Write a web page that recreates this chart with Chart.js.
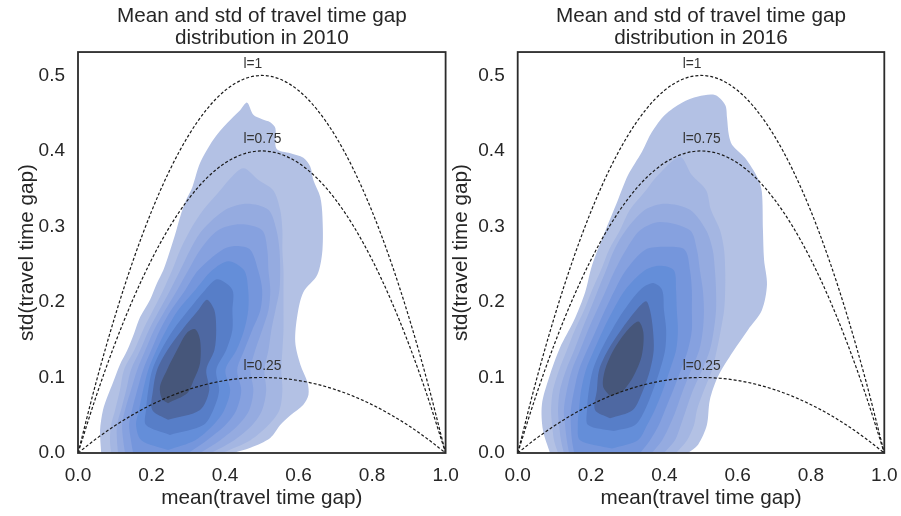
<!DOCTYPE html>
<html><head><meta charset="utf-8">
<script src="https://cdn.jsdelivr.net/npm/chart.js@4/dist/chart.umd.min.js"></script>
<style>
html,body{margin:0;padding:0;background:#fff;}
#wrap{position:relative;width:901px;height:516px;overflow:hidden;}
canvas{position:absolute;top:0;}
#c1{left:0;z-index:1;}
#c2{left:445px;z-index:2;}
</style></head><body>
<div id="wrap">
<canvas id="c1" width="462" height="516"></canvas>
<canvas id="c2" width="456" height="516"></canvas>
</div>
<script>
// ---- axes ----
const meanTicks = [0, 0.2, 0.4, 0.6, 0.8, 1.0];
const stdTicks = [0, 0.1, 0.2, 0.3, 0.4, 0.5];
const years = ['2010', '2016'];

// ---- reference curves ----
const curveMean = [0,0.05,0.1,0.15,0.2,0.25,0.3,0.35,0.4,0.45,0.5,0.55,0.6,0.65,0.7,0.75,0.8,0.85,0.9,0.95,1];
const curveL100 = [0,0.095,0.18,0.255,0.32,0.375,0.42,0.455,0.48,0.495,0.5,0.495,0.48,0.455,0.42,0.375,0.32,0.255,0.18,0.095,0];
const curveL075 = [0,0.076,0.144,0.204,0.256,0.3,0.336,0.364,0.384,0.396,0.4,0.396,0.384,0.364,0.336,0.3,0.256,0.204,0.144,0.076,0];
const curveL025 = [0,0.019,0.036,0.051,0.064,0.075,0.084,0.091,0.096,0.099,0.1,0.099,0.096,0.091,0.084,0.075,0.064,0.051,0.036,0.019,0];
const curveLabels = ['l=1', 'l=0.75', 'l=0.25'];
const curveLabelPos = [[0.45, 0.51], [0.45, 0.41], [0.45, 0.11]];

// ---- KDE contour levels, [mean, std] outlines ----
const levelColors = ['#b3c1e4','#a4b6e2','#95abe0','#86a1df','#7596dc','#648ed9','#577ec8','#4e68a2','#46567a'];

const kde2010_1 = [[0.063,0],[0.060,0.030],[0.068,0.057],[0.082,0.077],[0.095,0.093],[0.114,0.117],[0.134,0.136],[0.153,0.159],[0.169,0.180],[0.196,0.203],[0.215,0.225],[0.232,0.242],[0.245,0.260],[0.264,0.289],[0.278,0.313],[0.294,0.335],[0.311,0.352],[0.332,0.384],[0.368,0.415],[0.406,0.437],[0.441,0.454],[0.460,0.464],[0.477,0.448],[0.501,0.442],[0.523,0.438],[0.537,0.430],[0.540,0.403],[0.578,0.397],[0.613,0.391],[0.632,0.379],[0.640,0.362],[0.659,0.339],[0.665,0.313],[0.665,0.269],[0.651,0.236],[0.613,0.213],[0.597,0.183],[0.591,0.147],[0.605,0.117],[0.624,0.094],[0.627,0.077],[0.613,0.064],[0.578,0.050],[0.550,0.037],[0.523,0.020],[0.469,0.007],[0.422,0]];
const kde2010_2 = [[0.090,0],[0.087,0.017],[0.090,0.037],[0.101,0.057],[0.114,0.083],[0.125,0.110],[0.153,0.136],[0.177,0.163],[0.204,0.189],[0.232,0.216],[0.256,0.242],[0.278,0.269],[0.305,0.295],[0.341,0.322],[0.387,0.348],[0.411,0.362],[0.450,0.377],[0.490,0.362],[0.531,0.348],[0.550,0.322],[0.556,0.295],[0.556,0.269],[0.559,0.242],[0.559,0.216],[0.559,0.189],[0.559,0.163],[0.556,0.136],[0.553,0.110],[0.556,0.083],[0.548,0.057],[0.518,0.037],[0.469,0.017],[0.392,0]];
const kde2010_3 = [[0.109,0],[0.106,0.017],[0.106,0.037],[0.117,0.057],[0.131,0.083],[0.144,0.110],[0.169,0.136],[0.193,0.163],[0.221,0.189],[0.251,0.216],[0.278,0.242],[0.305,0.269],[0.338,0.295],[0.401,0.322],[0.460,0.330],[0.518,0.322],[0.540,0.295],[0.548,0.269],[0.550,0.242],[0.548,0.216],[0.537,0.189],[0.526,0.163],[0.518,0.136],[0.507,0.110],[0.512,0.083],[0.501,0.057],[0.474,0.037],[0.425,0.017],[0.362,0]];
const kde2010_4 = [[0.128,0],[0.123,0.017],[0.120,0.037],[0.128,0.057],[0.144,0.083],[0.161,0.110],[0.183,0.136],[0.207,0.163],[0.237,0.189],[0.270,0.216],[0.300,0.242],[0.332,0.269],[0.381,0.295],[0.441,0.303],[0.501,0.295],[0.515,0.269],[0.518,0.242],[0.523,0.216],[0.518,0.189],[0.501,0.163],[0.482,0.136],[0.469,0.110],[0.477,0.083],[0.466,0.057],[0.436,0.037],[0.387,0.017],[0.332,0]];
const kde2010_5 = [[0.150,0],[0.144,0.017],[0.139,0.037],[0.147,0.057],[0.161,0.083],[0.177,0.110],[0.199,0.136],[0.223,0.163],[0.253,0.189],[0.292,0.216],[0.327,0.242],[0.392,0.269],[0.431,0.274],[0.469,0.269],[0.490,0.242],[0.501,0.216],[0.496,0.189],[0.474,0.163],[0.452,0.136],[0.433,0.110],[0.444,0.083],[0.431,0.057],[0.401,0.037],[0.351,0.017],[0.300,0]];
const kde2010_6 = [[0.245,0.004],[0.172,0.017],[0.158,0.037],[0.166,0.057],[0.177,0.083],[0.191,0.110],[0.213,0.136],[0.240,0.163],[0.272,0.189],[0.319,0.216],[0.365,0.242],[0.409,0.254],[0.452,0.242],[0.463,0.216],[0.463,0.189],[0.452,0.163],[0.431,0.136],[0.401,0.110],[0.414,0.083],[0.398,0.057],[0.368,0.037],[0.319,0.017],[0.245,0.004]];
const kde2010_7 = [[0.250,0.024],[0.185,0.037],[0.185,0.057],[0.191,0.083],[0.202,0.110],[0.226,0.136],[0.259,0.163],[0.300,0.189],[0.346,0.216],[0.379,0.230],[0.420,0.216],[0.420,0.189],[0.420,0.163],[0.403,0.136],[0.376,0.110],[0.384,0.083],[0.368,0.057],[0.341,0.037],[0.250,0.024]];
const kde2010_8 = [[0.245,0.044],[0.202,0.057],[0.204,0.083],[0.215,0.110],[0.243,0.136],[0.283,0.163],[0.327,0.189],[0.351,0.203],[0.371,0.189],[0.376,0.163],[0.371,0.136],[0.349,0.110],[0.357,0.083],[0.332,0.057],[0.245,0.044]];
const kde2010_9 = [[0.245,0.066],[0.228,0.072],[0.223,0.088],[0.242,0.110],[0.269,0.136],[0.296,0.159],[0.319,0.164],[0.332,0.150],[0.332,0.119],[0.315,0.097],[0.297,0.079],[0.245,0.066]];

const kde2016_1 = [[0.088,0],[0.069,0.030],[0.066,0.064],[0.085,0.099],[0.115,0.139],[0.154,0.176],[0.184,0.213],[0.203,0.249],[0.238,0.293],[0.271,0.332],[0.301,0.368],[0.339,0.399],[0.366,0.425],[0.402,0.448],[0.448,0.464],[0.492,0.472],[0.538,0.474],[0.566,0.461],[0.571,0.444],[0.576,0.421],[0.585,0.408],[0.620,0.391],[0.655,0.364],[0.666,0.346],[0.669,0.295],[0.672,0.256],[0.680,0.223],[0.666,0.189],[0.628,0.163],[0.587,0.134],[0.546,0.101],[0.524,0.070],[0.516,0.037],[0.492,0.011],[0.464,0]];
const kde2016_2 = [[0.110,0],[0.099,0.017],[0.094,0.037],[0.091,0.057],[0.096,0.083],[0.113,0.110],[0.134,0.136],[0.156,0.163],[0.181,0.189],[0.203,0.216],[0.227,0.242],[0.249,0.269],[0.279,0.295],[0.306,0.322],[0.350,0.348],[0.383,0.368],[0.443,0.392],[0.475,0.368],[0.514,0.348],[0.527,0.322],[0.552,0.295],[0.563,0.269],[0.566,0.242],[0.566,0.216],[0.563,0.189],[0.554,0.163],[0.543,0.136],[0.530,0.110],[0.508,0.083],[0.489,0.057],[0.481,0.037],[0.462,0.017],[0.432,0]];
const kde2016_3 = [[0.126,0],[0.118,0.017],[0.113,0.037],[0.110,0.057],[0.115,0.083],[0.132,0.110],[0.154,0.136],[0.175,0.163],[0.197,0.189],[0.219,0.216],[0.241,0.242],[0.263,0.269],[0.295,0.295],[0.347,0.322],[0.402,0.330],[0.470,0.322],[0.514,0.295],[0.532,0.269],[0.538,0.242],[0.541,0.216],[0.541,0.189],[0.535,0.163],[0.524,0.136],[0.503,0.110],[0.478,0.083],[0.459,0.057],[0.445,0.037],[0.429,0.017],[0.399,0]];
const kde2016_4 = [[0.140,0],[0.134,0.017],[0.129,0.037],[0.126,0.057],[0.134,0.083],[0.148,0.110],[0.170,0.136],[0.192,0.163],[0.216,0.189],[0.241,0.216],[0.265,0.242],[0.295,0.269],[0.334,0.295],[0.388,0.306],[0.470,0.295],[0.489,0.269],[0.497,0.242],[0.505,0.216],[0.508,0.189],[0.505,0.163],[0.495,0.136],[0.473,0.110],[0.451,0.083],[0.432,0.057],[0.415,0.037],[0.394,0.017],[0.366,0]];
const kde2016_5 = [[0.154,0],[0.148,0.017],[0.145,0.037],[0.145,0.057],[0.154,0.083],[0.167,0.110],[0.189,0.136],[0.214,0.163],[0.238,0.189],[0.265,0.216],[0.295,0.242],[0.347,0.269],[0.407,0.273],[0.456,0.269],[0.470,0.242],[0.475,0.216],[0.475,0.189],[0.475,0.163],[0.464,0.136],[0.445,0.110],[0.424,0.083],[0.402,0.057],[0.385,0.037],[0.361,0.017],[0.334,0]];
const kde2016_6 = [[0.257,0.006],[0.170,0.017],[0.164,0.037],[0.167,0.057],[0.173,0.083],[0.186,0.110],[0.208,0.136],[0.233,0.163],[0.260,0.189],[0.293,0.216],[0.347,0.242],[0.388,0.248],[0.426,0.242],[0.432,0.216],[0.434,0.189],[0.437,0.163],[0.432,0.136],[0.415,0.110],[0.396,0.083],[0.374,0.057],[0.353,0.037],[0.328,0.017],[0.257,0.006]];
const kde2016_7 = [[0.262,0.029],[0.192,0.037],[0.189,0.057],[0.194,0.083],[0.205,0.110],[0.227,0.136],[0.257,0.163],[0.290,0.189],[0.334,0.216],[0.369,0.225],[0.394,0.216],[0.399,0.189],[0.405,0.163],[0.402,0.136],[0.388,0.110],[0.369,0.083],[0.347,0.057],[0.320,0.037],[0.262,0.029]];
const kde2016_8 = [[0.252,0.046],[0.211,0.057],[0.216,0.083],[0.222,0.110],[0.246,0.136],[0.282,0.163],[0.323,0.189],[0.350,0.201],[0.361,0.189],[0.369,0.163],[0.371,0.136],[0.361,0.110],[0.342,0.083],[0.314,0.057],[0.252,0.046]];
const kde2016_9 = [[0.252,0.075],[0.233,0.088],[0.238,0.110],[0.261,0.136],[0.293,0.159],[0.329,0.174],[0.343,0.159],[0.338,0.128],[0.315,0.101],[0.284,0.081],[0.252,0.075]];

const kdeLevels = {
  '2010': [kde2010_1,kde2010_2,kde2010_3,kde2010_4,kde2010_5,kde2010_6,kde2010_7,kde2010_8,kde2010_9],
  '2016': [kde2016_1,kde2016_2,kde2016_3,kde2016_4,kde2016_5,kde2016_6,kde2016_7,kde2016_8,kde2016_9]
};

const FONT = '"Liberation Sans", Arial, Helvetica, sans-serif';
const INK = '#262626';

const decorPlugin = {
  id: 'decor',
  afterDatasetsDraw(chart) {
    const {ctx, chartArea: a, scales: {x, y}} = chart;
    ctx.save();
    ctx.font = '13.8px ' + FONT;
    ctx.fillStyle = '#333333';
    ctx.textAlign = 'left';
    ctx.textBaseline = 'alphabetic';
    curveLabels.forEach((t, i) => {
      ctx.fillText(t, x.getPixelForValue(curveLabelPos[i][0]), y.getPixelForValue(curveLabelPos[i][1]));
    });
    ctx.strokeStyle = '#2b2b2b';
    ctx.lineWidth = 1.8;
    ctx.strokeRect(a.left, a.top, a.right - a.left, a.bottom - a.top);
    ctx.restore();
  }
};

function buildChart(canvasId, year, yWidth, padRight, yTitlePad) {
  const datasets = [];
  kdeLevels[year].forEach((poly, i) => {
    datasets.push({
      data: poly.map(p => ({x: p[0], y: p[1]})),
      showLine: true, fill: 'shape', backgroundColor: levelColors[i],
      borderWidth: 0, pointRadius: 0, tension: 0.3, order: 30 - i
    });
  });
  [curveL100, curveL075, curveL025].forEach(c => {
    datasets.push({
      data: curveMean.map((m, i) => ({x: m, y: c[i]})),
      showLine: true, fill: false, borderColor: '#1a1a1a', borderWidth: 1.2,
      borderDash: [3, 2], pointRadius: 0, cubicInterpolationMode: 'monotone', order: 1
    });
  });
  return new Chart(document.getElementById(canvasId), {
    type: 'scatter',
    data: {datasets},
    options: {
      responsive: false, animation: false,
      layout: {padding: {left: 0, right: padRight, top: 0, bottom: 0}},
      plugins: {
        legend: {display: false}, tooltip: {enabled: false},
        title: {
          display: true, fullSize: false,
          text: ['Mean and std of travel time gap', 'distribution in ' + year],
          color: INK, font: {family: FONT, size: 20.7, weight: 'normal', lineHeight: 1.1},
          padding: {top: 4.5, bottom: 2}
        }
      },
      scales: {
        x: {
          type: 'linear', min: 0, max: 1,
          afterBuildTicks(s) { s.ticks = meanTicks.map(v => ({value: v})); },
          afterFit(s) { s.height = 63; s.paddingLeft = 0; s.paddingRight = 0; },
          grid: {display: false, drawTicks: false}, border: {display: false},
          ticks: {color: INK, font: {family: FONT, size: 19}, padding: 11, callback: v => Number(v).toFixed(1)},
          title: {display: true, text: 'mean(travel time gap)', color: INK, font: {family: FONT, size: 20.7}, padding: {top: 0, bottom: 5}}
        },
        y: {
          type: 'linear', min: 0, max: 0.531,
          afterBuildTicks(s) { s.ticks = stdTicks.map(v => ({value: v})); },
          afterFit(s) { s.width = yWidth; s.paddingTop = 0; s.paddingBottom = 0; },
          grid: {display: false, drawTicks: false}, border: {display: false},
          ticks: {color: INK, font: {family: FONT, size: 19}, padding: 13, callback: v => Number(v).toFixed(1)},
          title: {display: true, text: 'std(travel time gap)', color: INK, font: {family: FONT, size: 20.7}, padding: {top: yTitlePad, bottom: 0}}
        }
      }
    },
    plugins: [decorPlugin]
  });
}

buildChart('c1', years[0], 78, 462 - 445.6, 15);
buildChart('c2', years[1], 517.7 - 445, 456 - (884.3 - 445), 3.5);
</script>
</body></html>
